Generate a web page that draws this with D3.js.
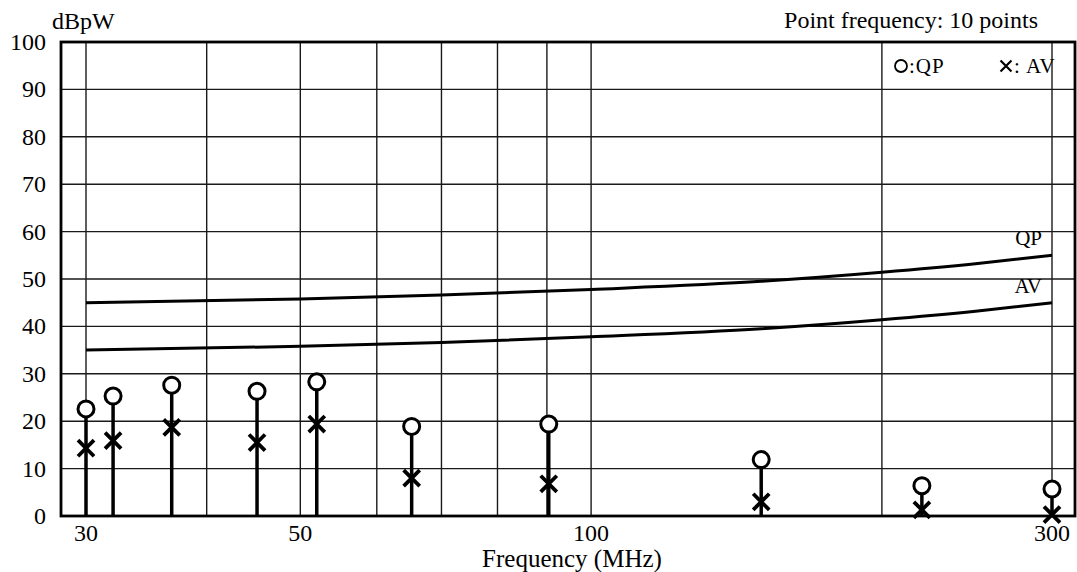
<!DOCTYPE html>
<html>
<head>
<meta charset="utf-8">
<script src="https://cdn.jsdelivr.net/npm/d3@7"></script>
<style>
  body { margin: 0; background: #fff; }
  text { font-family: "Liberation Serif", "Times New Roman", serif; fill: #000; }
</style>
</head>
<body>
<svg id="chart" width="1077" height="572"></svg>
<script>
// Measured points (MHz, dBpW)
var freqs = [30, 32, 36.8, 45.1, 52, 65.2, 90.4, 150, 220, 300];
var qpValues = [22.6, 25.3, 27.6, 26.3, 28.3, 18.9, 19.4, 11.9, 6.4, 5.7];
var avValues = [14.3, 15.9, 18.7, 15.5, 19.4, 8.0, 6.8, 3.0, 1.3, 0.3];

// Limit lines
var limitFreqs = [30, 50, 70, 100, 150, 200, 250, 300];
var qpLimit = [45, 45.8, 46.6, 47.8, 49.5, 51.4, 53.2, 55];
var avLimit = [35, 35.8, 36.6, 37.8, 39.5, 41.4, 43.2, 45];

// Grid and tick labels
var xGrid = [30, 40, 50, 60, 70, 80, 90, 100, 200, 300];
var xTickLabels = [30, 50, 100, 300];
var yTicks = [0, 10, 20, 30, 40, 50, 60, 70, 80, 90, 100];

var svg = d3.select("#chart");

// frame edges
var frameL = 61, frameR = 1075, frameT = 42, frameB = 516;

var xScale = d3.scaleLog()
    .domain([30, 300])
    .range([86, 1052]);

var yScale = d3.scaleLinear()
    .domain([0, 100])
    .range([frameB, frameT]);

// grid
svg.append("g")
    .selectAll("line")
    .data(yTicks)
    .enter()
    .append("line")
    .attr("x1", frameL)
    .attr("x2", frameR)
    .attr("y1", function (d) { return yScale(d); })
    .attr("y2", function (d) { return yScale(d); })
    .attr("stroke", "#1a1a1a")
    .attr("stroke-width", 1.4);

svg.append("g")
    .selectAll("line")
    .data(xGrid)
    .enter()
    .append("line")
    .attr("x1", function (d) { return xScale(d); })
    .attr("x2", function (d) { return xScale(d); })
    .attr("y1", frameT)
    .attr("y2", frameB)
    .attr("stroke", "#1a1a1a")
    .attr("stroke-width", 1.4);

// frame
svg.append("rect")
    .attr("x", frameL)
    .attr("y", frameT)
    .attr("width", frameR - frameL)
    .attr("height", frameB - frameT)
    .attr("fill", "none")
    .attr("stroke", "#000")
    .attr("stroke-width", 2.8);

// y tick labels
svg.append("g")
    .selectAll("text")
    .data(yTicks)
    .enter()
    .append("text")
    .attr("x", 46)
    .attr("y", function (d) { return yScale(d) + 8; })
    .attr("text-anchor", "end")
    .style("font-size", "24px")
    .text(function (d) { return d; });

// x tick labels
svg.append("g")
    .selectAll("text")
    .data(xTickLabels)
    .enter()
    .append("text")
    .attr("x", function (d) { return xScale(d); })
    .attr("y", 541)
    .attr("text-anchor", "middle")
    .style("font-size", "24px")
    .text(function (d) { return d; });

svg.append("text")
    .attr("x", 572)
    .attr("y", 567)
    .attr("text-anchor", "middle")
    .style("font-size", "25px")
    .text("Frequency (MHz)");

svg.append("text")
    .attr("x", 52)
    .attr("y", 29)
    .style("font-size", "24px")
    .text("dBpW");

svg.append("text")
    .attr("x", 1038)
    .attr("y", 28)
    .attr("text-anchor", "end")
    .style("font-size", "24px")
    .text("Point frequency: 10 points");

// limit lines
var limitLine = d3.line()
    .x(function (d) { return xScale(d[0]); })
    .y(function (d) { return yScale(d[1]); })
    .curve(d3.curveMonotoneX);

[qpLimit, avLimit].forEach(function (vals) {
    svg.append("path")
        .datum(d3.zip(limitFreqs, vals))
        .attr("d", limitLine)
        .attr("fill", "none")
        .attr("stroke", "#000")
        .attr("stroke-width", 3);
});

svg.append("text")
    .attr("x", 1042)
    .attr("y", 245)
    .attr("text-anchor", "end")
    .style("font-size", "21px")
    .text("QP");

svg.append("text")
    .attr("x", 1042)
    .attr("y", 293)
    .attr("text-anchor", "end")
    .style("font-size", "21px")
    .text("AV");

// stems
var points = d3.zip(freqs, qpValues, avValues);
var r = 8;

svg.append("g")
    .selectAll("line")
    .data(points)
    .enter()
    .append("line")
    .attr("x1", function (d) { return xScale(d[0]); })
    .attr("x2", function (d) { return xScale(d[0]); })
    .attr("y1", frameB)
    .attr("y2", function (d) { return yScale(d[1]) + r; })
    .attr("stroke", "#000")
    .attr("stroke-width", 3.5);

// QP circles
svg.append("g")
    .selectAll("circle")
    .data(points)
    .enter()
    .append("circle")
    .attr("cx", function (d) { return xScale(d[0]); })
    .attr("cy", function (d) { return yScale(d[1]); })
    .attr("r", r)
    .attr("fill", "#fff")
    .attr("stroke", "#000")
    .attr("stroke-width", 3);

// AV crosses
var cross = d3.symbol().type(d3.symbolX).size(170);
svg.append("g")
    .selectAll("path")
    .data(points)
    .enter()
    .append("path")
    .attr("d", cross)
    .attr("transform", function (d) {
        return "translate(" + xScale(d[0]) + "," + yScale(d[2]) + ")";
    })
    .attr("fill", "none")
    .attr("stroke", "#000")
    .attr("stroke-width", 3.8);

// legend
svg.append("circle")
    .attr("cx", 901)
    .attr("cy", 66)
    .attr("r", 6)
    .attr("fill", "none")
    .attr("stroke", "#000")
    .attr("stroke-width", 1.8);

svg.append("text")
    .attr("x", 909)
    .attr("y", 73)
    .style("font-size", "21px")
    .style("letter-spacing", "1px")
    .text(":QP");

svg.append("path")
    .attr("d", d3.symbol().type(d3.symbolX).size(80))
    .attr("transform", "translate(1006,66)")
    .attr("fill", "none")
    .attr("stroke", "#000")
    .attr("stroke-width", 2.2);

svg.append("text")
    .attr("x", 1014)
    .attr("y", 73)
    .style("font-size", "21px")
    .style("letter-spacing", "1px")
    .text(": AV");
</script>
</body>
</html>
